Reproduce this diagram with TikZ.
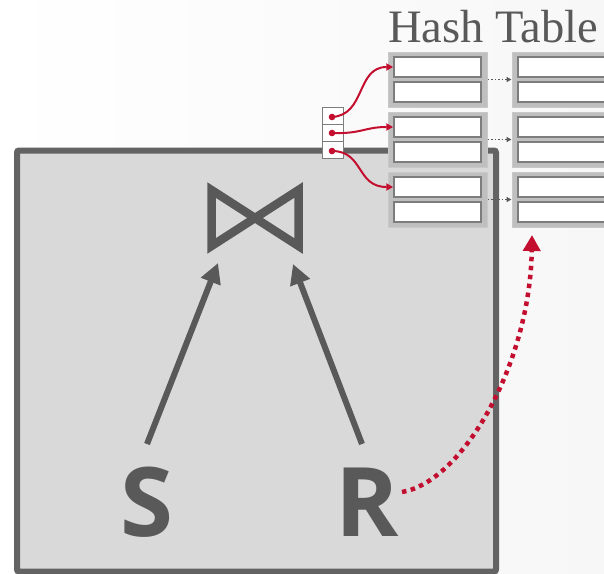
\documentclass[tikz,border=0pt]{standalone}
\usepackage{fontspec}
\setmainfont{Liberation Serif}
\newfontfamily\opensans{Open Sans}
\usetikzlibrary{arrows.meta}
\definecolor{boxgray}{RGB}{99,99,99}
\definecolor{boxfill}{RGB}{217,217,217}
\definecolor{txtgray}{RGB}{89,89,89}
\definecolor{bucketfill}{RGB}{191,191,191}
\definecolor{slotline}{RGB}{125,125,125}
\definecolor{myred}{RGB}{196,14,48}
\definecolor{bgright}{RGB}{247,247,247}
\tikzset{
  bigbox/.style={draw=boxgray, fill=boxfill, line width=6pt, rounded corners=2pt, inner sep=0pt},
  bucket/.style={fill=bucketfill, draw=bucketfill!85!white, line width=1pt, minimum width=99pt, minimum height=55pt, inner sep=0pt},
  slot/.style={fill=white, draw=slotline, line width=1.5pt, minimum width=87pt, minimum height=20pt, inner sep=0pt},
  cell/.style={fill=white, draw=slotline, line width=1pt, minimum width=21pt, minimum height=17.3pt, inner sep=0pt},
  conn/.style={txtgray, line width=1.5pt, dotted, -{Triangle[length=5pt,width=5pt]}},
  ptr/.style={myred, line width=2pt, -{Triangle[length=7pt,width=7pt]}},
  flow/.style={txtgray, line width=6pt, -{Triangle[length=20pt,width=20pt]}},
  build/.style={myred, line width=4.5pt, dash pattern=on 4.5pt off 4.5pt, -{Triangle[length=16pt,width=17pt]}},
  letter/.style={text=txtgray, font=\opensans\bfseries\fontsize{96}{96}\selectfont, inner sep=0pt, anchor=base}
}
\begin{document}
\begin{tikzpicture}[x=1pt,y=-1pt]
\useasboundingbox (0,0) rectangle (604,573);
\shade[left color=white, right color=bgright] (0,0) rectangle (604,573);

% operator box
\node[bigbox, minimum width=479pt, minimum height=421pt] (box) at (256.5,361) {};

% join symbol
\draw[txtgray, line width=8.5pt, line join=miter] (211.5,190) -- (298.5,246) -- (298.5,190) -- (211.5,246) -- cycle;

% inputs
\node[letter] (S) at (146.5,536) {S};
\node[letter] (R) at (367,536) {R};
\coordinate (sa) at (147,444);
\coordinate (sj) at (218,263);
\coordinate (ra) at (362,444);
\coordinate (rj) at (293,264);
\draw[flow] (sa) -- (sj);
\draw[flow] (ra) -- (rj);

% hash table buckets
\foreach \i/\y in {1/79.5, 2/139.5, 3/199.5}{
  \node[bucket] (b\i) at (437.5,\y) {};
  \node[slot] (s\i a) at (437.5,\y-12.5) {};
  \node[slot] (s\i b) at (437.5,\y+12.5) {};
  \node[bucket] (r\i) at (561.5,\y) {};
  \node[slot] (t\i a) at (561.5,\y-12.5) {};
  \node[slot] (t\i b) at (561.5,\y+12.5) {};
  \draw[conn] (b\i.east) -- (r\i.west);
}

% build arrow
\coordinate (rs) at (402,492);
\coordinate (re) at (532,235);
\draw[build] (rs) .. controls (462,482) and (530,365) .. (re);

% index array
\node[cell] (c1) at (332.5,115.7) {};
\node[cell] (c2) at (332.5,133) {};
\node[cell] (c3) at (332.5,150.3) {};
\fill[myred] (332,117) circle (3.3pt) coordinate (d1);
\fill[myred] (332,133) circle (3.3pt) coordinate (d2);
\fill[myred] (332,151) circle (3.3pt) coordinate (d3);
\draw[ptr] (d1) .. controls (366,115) and (356,67) .. (s1a.west);
\draw[ptr] (d2) .. controls (362,134) and (364,127) .. (s2a.west);
\draw[ptr] (d3) .. controls (364,151) and (356,187) .. (s3a.west);

% title
\node[anchor=base west, inner sep=0pt, text=txtgray, font=\fontsize{46.5}{46.5}\selectfont] (title) at (388,42) {Hash Table};
\end{tikzpicture}
\end{document}
